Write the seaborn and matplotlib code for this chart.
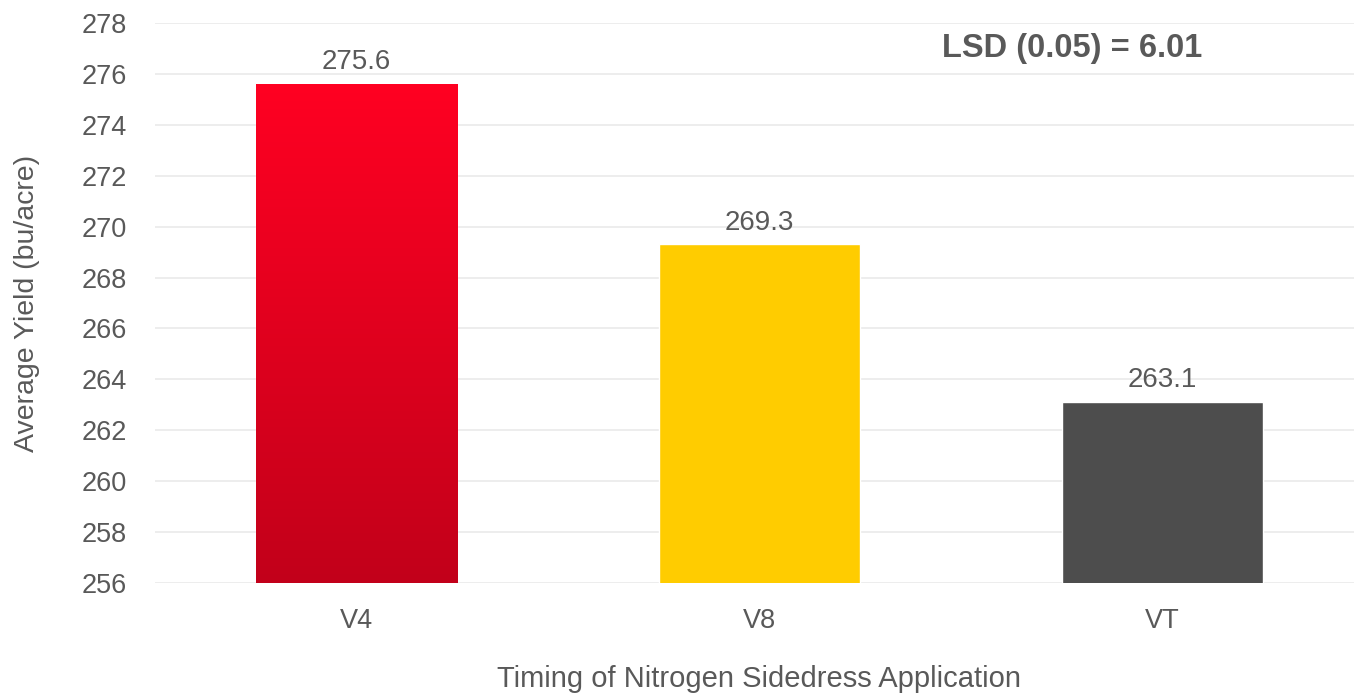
import numpy as np
import matplotlib
matplotlib.use("Agg")
import matplotlib.pyplot as plt
import seaborn as sns
import pandas as pd
from matplotlib.colors import LinearSegmentedColormap

categories = ["V4", "V8", "VT"]
yields = [275.6, 269.3, 263.1]
bar_labels = ["275.6", "269.3", "263.1"]
y_ticks = [256, 258, 260, 262, 264, 266, 268, 270, 272, 274, 276, 278]
lsd_text = "LSD (0.05) = 6.01"

colors = ["#FF0022", "#FFCC00", "#4D4D4D"]
text_color = "#595959"

sns.set_theme(style="white")
plt.rcParams['font.family'] = ['Liberation Sans', 'DejaVu Sans']

df = pd.DataFrame({"cat": categories, "y": yields})

fig = plt.figure(figsize=(13.54, 6.96), dpi=100)
ax = fig.add_axes([155/1354, 1 - 583/696, 1209/1354, 560/696])

sns.barplot(data=df, x="cat", y="y", hue="cat", palette=colors, legend=False,
            width=0.5, ax=ax, zorder=3, saturation=1)

ax.set_ylim(256, 278)
ax.set_xlim(-0.5, 2.5)
ax.set_yticks(y_ticks)
ax.yaxis.grid(True, color="#EAEAEA", linewidth=1.2, zorder=0)
ax.set_axisbelow(True)
for s in ax.spines.values():
    s.set_visible(False)

# Gradient on the first bar
red_cmap = LinearSegmentedColormap.from_list("red", ["#C2001A", "#FF0022"])
p0 = ax.patches[0]
x0, w = p0.get_x(), p0.get_width()
y0, h = p0.get_y(), p0.get_height()
grad = np.linspace(0, 1, 256).reshape(-1, 1)
im = ax.imshow(grad, cmap=red_cmap, origin="lower", aspect="auto",
               extent=[x0, x0 + w, 256, y0 + h], zorder=4)
im.set_clip_path(p0)

for i, (v, lab) in enumerate(zip(yields, bar_labels)):
    ax.text(i, v + 0.35, lab, ha="center", va="bottom", fontsize=20,
            color=text_color, zorder=5)

ax.tick_params(axis="both", length=0, labelsize=19.5, colors=text_color)
ax.tick_params(axis="x", pad=18)
ax.tick_params(axis="y", pad=20)
ax.set_xlabel("Timing of Nitrogen Sidedress Application", fontsize=21,
              color=text_color, labelpad=22)
ax.set_ylabel("Average Yield (bu/acre)", fontsize=20.5, color=text_color,
              labelpad=30)

ax.text((1072 - 155) / 1209, (583 - 48) / 560, lsd_text, transform=ax.transAxes,
        ha="center", va="center", fontsize=23.5, fontweight="bold",
        color=text_color)

fig.savefig("out.png", dpi=100)
